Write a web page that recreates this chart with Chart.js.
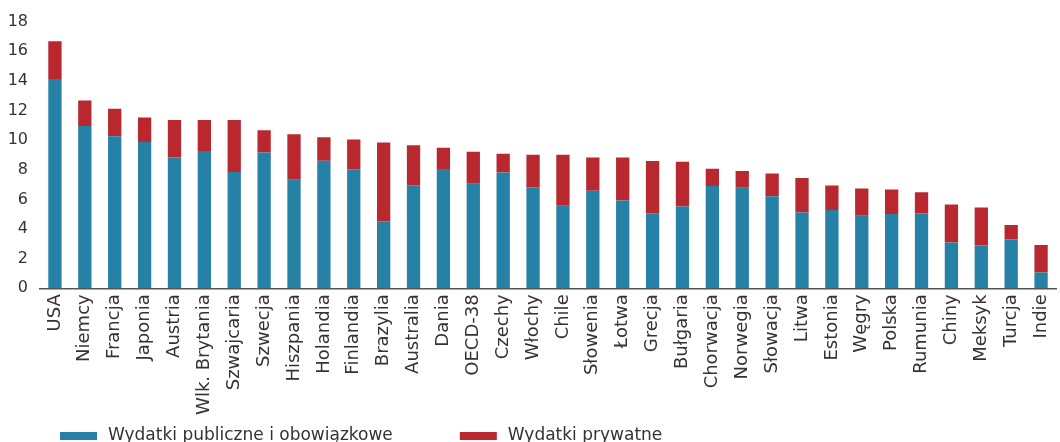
<!DOCTYPE html>
<html lang="pl">
<head>
<meta charset="utf-8">
<title>Wydatki na zdrowie</title>
<script src="https://cdn.jsdelivr.net/npm/chart.js@4/dist/chart.umd.min.js"></script>
<style>
  html, body { margin: 0; padding: 0; background: #ffffff; overflow: hidden; }
  #wrap { position: relative; width: 1060px; height: 442px; }
</style>
</head>
<body>
<div id="wrap"><canvas id="chart" width="1060" height="442"></canvas></div>
<script>
// Kraje, w kolejności od najwyższych łącznych wydatków
const categories = [
  'USA', 'Niemcy', 'Francja', 'Japonia', 'Austria', 'Wlk. Brytania', 'Szwajcaria',
  'Szwecja', 'Hiszpania', 'Holandia', 'Finlandia', 'Brazylia', 'Australia', 'Dania',
  'OECD-38', 'Czechy', 'Włochy', 'Chile', 'Słowenia', 'Łotwa', 'Grecja', 'Bułgaria',
  'Chorwacja', 'Norwegia', 'Słowacja', 'Litwa', 'Estonia', 'Węgry', 'Polska',
  'Rumunia', 'Chiny', 'Meksyk', 'Turcja', 'Indie'
];

// Wydatki publiczne i obowiązkowe (% PKB)
const publicSpending = [
  14.13, 10.96, 10.27, 9.87, 8.83, 9.26, 7.85,
  9.17, 7.32, 8.61, 8.03, 4.52, 6.95, 8.05,
  7.05, 7.81, 6.82, 5.57, 6.58, 5.93, 5.07, 5.52,
  6.91, 6.78, 6.22, 5.12, 5.28, 4.90, 5.01,
  5.05, 3.09, 2.89, 3.29, 1.07
];

// Wydatki prywatne (% PKB)
const privateSpending = [
  2.54, 1.72, 1.85, 1.65, 2.53, 2.10, 3.51,
  1.50, 3.08, 1.59, 2.01, 5.32, 2.71, 1.43,
  2.16, 1.27, 2.19, 3.44, 2.25, 2.90, 3.52, 3.02,
  1.16, 1.14, 1.52, 2.33, 1.65, 1.83, 1.65,
  1.43, 2.57, 2.57, 0.98, 1.86
];

const seriesNames = ['Wydatki publiczne i obowiązkowe', 'Wydatki prywatne'];
const yTicks = [0, 2, 4, 6, 8, 10, 12, 14, 16, 18];

const COLOR_PUBLIC = '#2581a6';
const COLOR_PRIVATE = '#b9272f';
const TEXT = '#333333';
const FONT = "'DejaVu Sans', sans-serif";

// Legenda rysowana pod wykresem, w jednym wierszu od lewej
const bottomLegend = {
  id: 'bottomLegend',
  afterDraw(chart) {
    const ctx = chart.ctx;
    ctx.save();
    ctx.font = '17px ' + FONT;
    ctx.textBaseline = 'alphabetic';
    ctx.textAlign = 'left';
    let x = 60;
    const boxW = 37, boxH = 8, boxTop = 432, baseline = 440;
    chart.data.datasets.forEach((ds) => {
      ctx.fillStyle = ds.backgroundColor;
      ctx.fillRect(x, boxTop, boxW, boxH);
      ctx.fillStyle = TEXT;
      const tx = x + boxW + 11;
      ctx.fillText(ds.label, tx, baseline);
      x = tx + ctx.measureText(ds.label).width + 67;
    });
    ctx.restore();
  }
};

new Chart(document.getElementById('chart'), {
  type: 'bar',
  data: {
    labels: categories,
    datasets: [
      {
        label: seriesNames[0],
        data: publicSpending,
        backgroundColor: COLOR_PUBLIC,
        barPercentage: 0.445,
        categoryPercentage: 1.0
      },
      {
        label: seriesNames[1],
        data: privateSpending,
        backgroundColor: COLOR_PRIVATE,
        barPercentage: 0.445,
        categoryPercentage: 1.0
      }
    ]
  },
  options: {
    responsive: false,
    animation: false,
    layout: { padding: { top: 21, right: 4, left: 0, bottom: 0 } },
    plugins: {
      legend: { display: false },
      tooltip: { enabled: false }
    },
    scales: {
      x: {
        stacked: true,
        grid: { display: false, drawTicks: false },
        border: { display: true, color: '#555555', width: 1.5 },
        ticks: {
          autoSkip: false,
          maxRotation: 90,
          minRotation: 90,
          padding: 6,
          color: TEXT,
          font: { family: FONT, size: 18 }
        },
        afterFit(scale) {
          scale.height = 442 - 288.3;
          scale.paddingLeft = 0;
          scale.paddingRight = 0;
        }
      },
      y: {
        stacked: true,
        min: 0,
        max: 18,
        grid: { display: false, drawTicks: false },
        border: { display: false },
        afterBuildTicks(scale) {
          scale.ticks = yTicks.map(v => ({ value: v }));
        },
        ticks: {
          padding: 12,
          color: TEXT,
          font: { family: FONT, size: 16 }
        },
        afterFit(scale) {
          scale.width = 40;
        }
      }
    }
  },
  plugins: [bottomLegend]
});
</script>
</body>
</html>
